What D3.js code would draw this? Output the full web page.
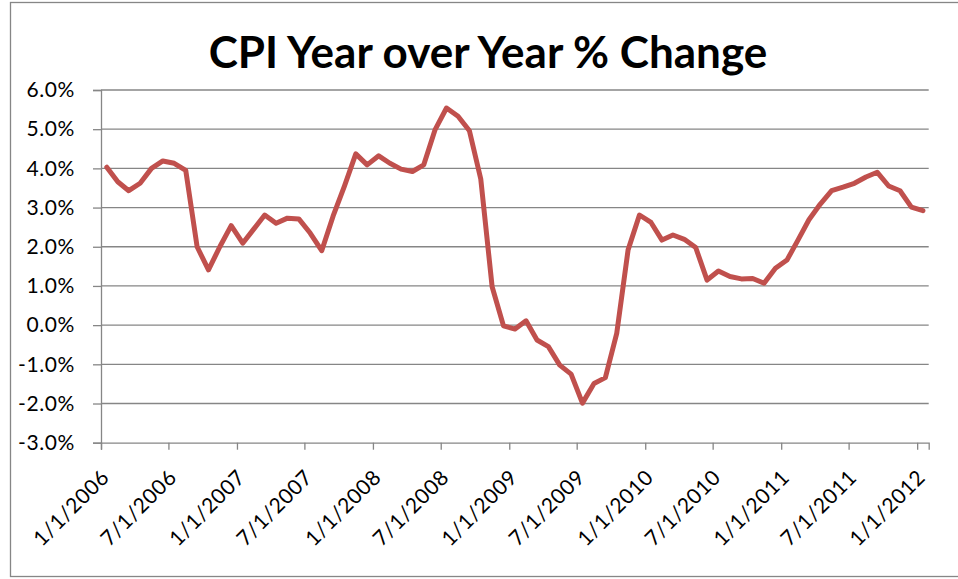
<!DOCTYPE html>
<html>
<head>
<meta charset="utf-8">
<script src="https://cdn.jsdelivr.net/npm/d3@7"></script>
<style>
  html, body { margin: 0; padding: 0; background: #fff; }
  svg { display: block; }
</style>
</head>
<body>
<div id="chart"></div>
<script>
// monthly CPI, year over year % change, Jan 2006 .. Jan 2012
const startMonth = new Date(Date.UTC(2006, 0, 1));
const endMonth = new Date(Date.UTC(2012, 1, 1));
const months = d3.utcMonth.range(startMonth, endMonth);

const cpiYoY = [
  4.03, 3.66, 3.43, 3.62, 4.00, 4.19, 4.13, 3.95, 2.00, 1.41, 2.00, 2.54,
  2.09, 2.45, 2.81, 2.60, 2.73, 2.71, 2.35, 1.90, 2.78, 3.55, 4.37, 4.09,
  4.32, 4.13, 3.98, 3.92, 4.09, 4.99, 5.54, 5.33, 4.96, 3.73, 0.98, -0.02,
  -0.10, 0.11, -0.38, -0.55, -1.02, -1.25, -1.99, -1.49, -1.34, -0.21, 1.92, 2.81,
  2.62, 2.17, 2.30, 2.19, 1.98, 1.15, 1.38, 1.24, 1.18, 1.19, 1.07, 1.45,
  1.66, 2.17, 2.69, 3.09, 3.43, 3.52, 3.62, 3.78, 3.90, 3.55, 3.43, 3.01,
  2.92
];

const xTickLabels = [
  "1/1/2006", "7/1/2006", "1/1/2007", "7/1/2007", "1/1/2008", "7/1/2008",
  "1/1/2009", "7/1/2009", "1/1/2010", "7/1/2010", "1/1/2011", "7/1/2011",
  "1/1/2012"
];
const yTicks = [-3, -2, -1, 0, 1, 2, 3, 4, 5, 6];

const title = "CPI Year over Year % Change";

const width = 958, height = 579;
const plot = { left: 101, right: 928.7, top: 90, bottom: 442.7 };
const gridColor = "#868686";
const lineColor = "#c0504d";
const font = "Lato, 'Open Sans', sans-serif";

const svg = d3.select("#chart")
  .append("svg")
  .attr("width", width)
  .attr("height", height);

// chart area border (right edge runs off the picture)
svg.append("rect")
  .attr("x", 10.5).attr("y", 2.5)
  .attr("width", 960).attr("height", 574)
  .attr("fill", "#fff")
  .attr("stroke", gridColor)
  .attr("stroke-width", 1.3);

const parseLabel = d3.utcParse("%m/%d/%Y");

const x = d3.scaleUtc()
  .domain([startMonth, endMonth])
  .range([plot.left, plot.right]);

const y = d3.scaleLinear()
  .domain([d3.min(yTicks), d3.max(yTicks)])
  .range([plot.bottom, plot.top]);

// horizontal gridlines
svg.append("g")
  .selectAll("line")
  .data(yTicks.filter(d => d !== d3.min(yTicks)))
  .enter()
  .append("line")
  .attr("x1", plot.left)
  .attr("x2", plot.right)
  .attr("y1", d => y(d))
  .attr("y2", d => y(d))
  .attr("stroke", gridColor)
  .attr("stroke-width", 1.3);

// y axis
const yAxis = svg.append("g")
  .attr("transform", `translate(${plot.left},0)`)
  .call(d3.axisLeft(y)
    .tickValues(yTicks)
    .tickSize(8)
    .tickPadding(18)
    .tickFormat(d => d.toFixed(1) + "%"));

// x axis
const xAxis = svg.append("g")
  .attr("transform", `translate(0,${plot.bottom})`)
  .call(d3.axisBottom(x)
    .tickValues(xTickLabels.map(parseLabel))
    .tickSize(7)
    .tickFormat((d, i) => xTickLabels[i]));

[yAxis, xAxis].forEach(a => {
  a.select(".domain").attr("stroke", gridColor).attr("stroke-width", 1.3);
  a.selectAll(".tick line").attr("stroke", gridColor).attr("stroke-width", 1.3);
  a.selectAll("text")
    .attr("fill", "#000")
    .style("font-family", font)
    .style("font-size", "21px")
    .style("letter-spacing", "0.6px");
});

xAxis.selectAll(".tick text")
  .attr("y", 0)
  .attr("dy", 0)
  .attr("text-anchor", "end")
  .attr("transform", "translate(9,36) rotate(-45)");

// the series: each month plotted in the middle of its interval
const line = d3.line()
  .x((d, i) => (x(months[i]) + x(d3.utcMonth.offset(months[i], 1))) / 2)
  .y(d => y(d));

svg.append("path")
  .datum(cpiYoY)
  .attr("d", line)
  .attr("fill", "none")
  .attr("stroke", lineColor)
  .attr("stroke-width", 5)
  .attr("stroke-linejoin", "round")
  .attr("stroke-linecap", "round");

svg.append("text")
  .attr("x", 488)
  .attr("y", 68)
  .attr("text-anchor", "middle")
  .style("font-family", font)
  .style("font-weight", "bold")
  .style("font-size", "44px")
  .text(title);
</script>
</body>
</html>
